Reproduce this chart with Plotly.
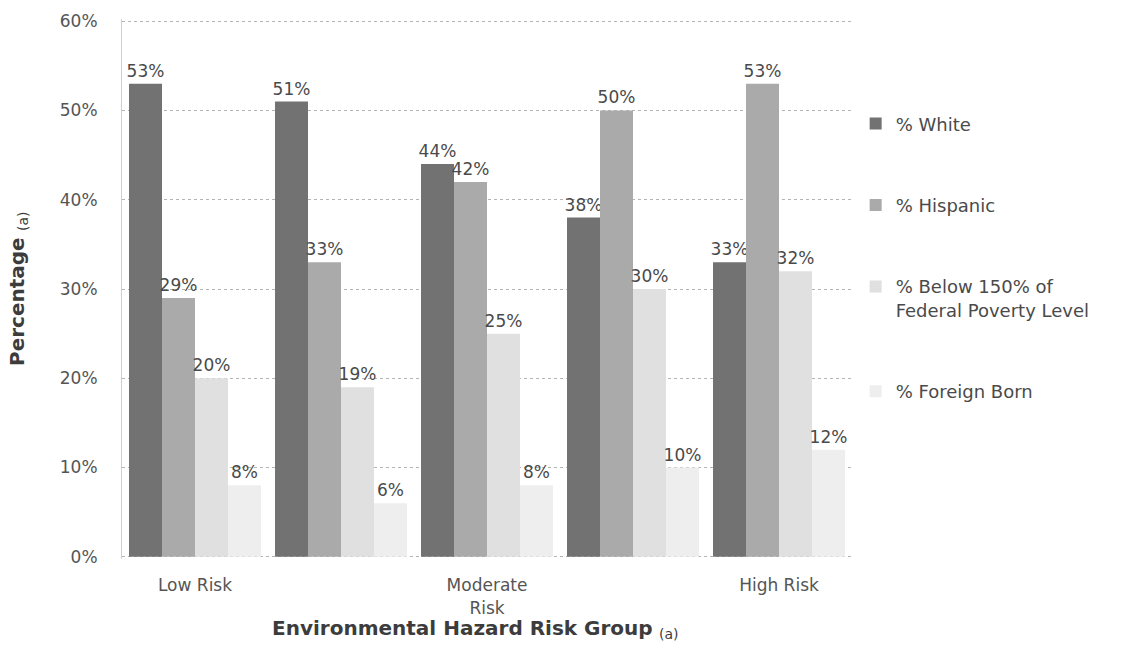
import plotly.graph_objects as go

# Environmental hazard risk groups (only every other group is labelled)
group_labels = ["Low Risk", "", "Moderate<br>Risk", "", "High Risk"]

# Share of residents in each risk group (%)
pct_white = [53, 51, 44, 38, 33]
pct_hispanic = [29, 33, 42, 50, 53]
pct_below_150_fpl = [20, 19, 25, 30, 32]
pct_foreign_born = [8, 6, 8, 10, 12]

series = [
    ("% White", pct_white, "#727272"),
    ("% Hispanic", pct_hispanic, "#aaaaaa"),
    ("% Below 150% of<br>Federal Poverty Level", pct_below_150_fpl, "#e0e0e0"),
    ("% Foreign Born", pct_foreign_born, "#eeeeee"),
]

x_pos = list(range(len(group_labels)))
labelled = [(x, lab) for x, lab in zip(x_pos, group_labels) if lab]
font_family = "DejaVu Sans, Liberation Sans, Arial, sans-serif"

fig = go.Figure()
for name, values, color in series:
    fig.add_trace(go.Bar(
        x=x_pos,
        y=values,
        name=name,
        legendgroup=name,
        marker=dict(color=color, line=dict(width=0)),
        text=values,
        texttemplate="%{text}%",
        textposition="outside",
        constraintext="none",
        cliponaxis=False,
        textfont=dict(family=font_family, size=17, color="#4a4a4a"),
        hovertemplate="%{y}%<extra>" + name + "</extra>",
    ))

fig.update_layout(
    barmode="group",
    bargap=0.096,
    bargroupgap=0,
    width=1146,
    height=668,
    margin=dict(l=122, r=294, t=19, b=109),
    paper_bgcolor="white",
    plot_bgcolor="white",
    font=dict(family=font_family, color="#555555"),
    showlegend=True,
    legend=dict(
        x=1.005,
        xanchor="left",
        y=0.84,
        yanchor="top",
        tracegroupgap=55,
        valign="top",
        font=dict(family=font_family, size=18, color="#4a4a4a"),
        bgcolor="rgba(0,0,0,0)",
        itemwidth=30,
    ),
    xaxis=dict(
        range=[-0.5, len(group_labels) - 0.5],
        tickvals=[x for x, _ in labelled],
        ticktext=[lab for _, lab in labelled],
        tickfont=dict(family=font_family, size=17, color="#555555"),
        ticks="outside",
        ticklen=11,
        tickcolor="rgba(0,0,0,0)",
        showgrid=False,
        zeroline=False,
        showline=False,
    ),
    yaxis=dict(
        range=[-0.25, 60.25],
        tick0=0,
        dtick=10,
        ticksuffix="%",
        tickfont=dict(family=font_family, size=17, color="#555555"),
        ticks="outside",
        ticklen=20,
        tickcolor="rgba(0,0,0,0)",
        showgrid=True,
        gridcolor="#b4b4b4",
        griddash="dot",
        gridwidth=1,
        zeroline=False,
        showline=True,
        linecolor="#d0d0d0",
        linewidth=1,
    ),
    annotations=[
        dict(
            text="<b>Environmental Hazard Risk Group</b> <sub>(a)</sub>",
            xref="paper", yref="paper",
            x=0.484, y=0,
            xanchor="center", yanchor="middle",
            yshift=-70,
            showarrow=False,
            font=dict(family=font_family, size=20, color="#3c3c3c"),
        ),
        dict(
            text="<b>Percentage</b> <sub>(a)</sub>",
            xref="paper", yref="paper",
            x=0, y=0.5,
            xanchor="center", yanchor="middle",
            xshift=-104,
            textangle=-90,
            showarrow=False,
            font=dict(family=font_family, size=20, color="#3c3c3c"),
        ),
    ],
)

fig.write_html("out.html")
